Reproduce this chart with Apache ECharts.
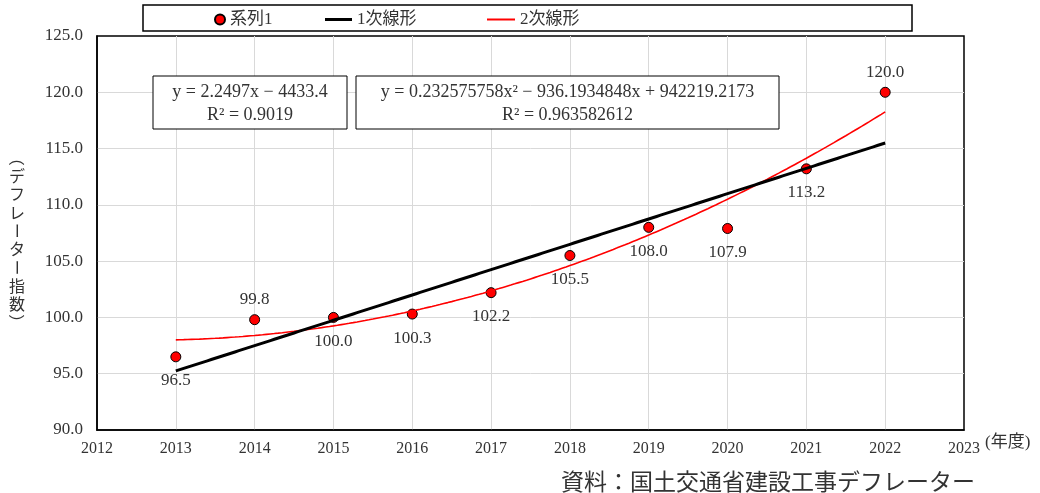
<!DOCTYPE html>
<html lang="ja">
<head>
<meta charset="utf-8">
<title>建設工事デフレーター</title>
<script src="https://cdn.jsdelivr.net/npm/echarts@6/dist/echarts.min.js"></script>
<style>
  html, body { margin: 0; padding: 0; background: #fff; }
  #chart { width: 1040px; height: 493px; }
</style>
</head>
<body>
<div id="chart"></div>
<script>
// Fiscal years and deflator index values
const years = [2013, 2014, 2015, 2016, 2017, 2018, 2019, 2020, 2021, 2022];
const deflator = [96.5, 99.8, 100.0, 100.3, 102.2, 105.5, 108.0, 107.9, 113.2, 120.0];

// Axis ranges / tick steps
const xRange = [2012, 2023];
const xStep = 1;
const yRange = [90, 125];
const yStep = 5;

// Trend line coefficients (highest power first) and R² values
const linearCoef = [2.2497, -4433.4];
const linearR2 = 0.9019;
const quadCoef = [0.232575758, -936.1934848, 942219.2173];
const quadR2 = 0.963582612;

// Series names and axis titles
const seriesNames = ['系列1', '1次線形', '2次線形'];
const yTitle = '（デフレーター指数）';
const xUnit = '(年度)';
const sourceNote = '資料：国土交通省建設工事デフレーター';

const serif = "'Liberation Serif', 'Noto Sans CJK JP', serif";
const cjk = "'Noto Sans CJK JP', sans-serif";
const textColor = '#333';

function polyval(coef, x) {
  return coef.reduce((acc, c) => acc * x + c, 0);
}

// Sample a fitted curve across the data's x span
function trendPoints(coef) {
  const pts = [];
  const x0 = years[0], x1 = years[years.length - 1];
  const n = 180;
  for (let i = 0; i <= n; i++) {
    const x = x0 + (x1 - x0) * i / n;
    pts.push([x, polyval(coef, x)]);
  }
  return pts;
}

function signed(v) {
  return (v < 0 ? ' − ' : ' + ') + String(Math.abs(v));
}

const linearText = 'y = ' + linearCoef[0] + 'x' + signed(linearCoef[1]) + '\nR² = ' + linearR2;
const quadText = 'y = ' + quadCoef[0] + 'x²' + signed(quadCoef[1]) + 'x' + signed(quadCoef[2]) + '\nR² = ' + quadR2;

// Label placement per point: a few sit above their marker
const labelAbove = [false, true, false, false, false, false, false, false, false, true];

const scatterData = years.map((y, i) => ({
  value: [y, deflator[i]],
  label: labelAbove[i]
    ? { position: 'top', distance: 6 }
    : { position: 'bottom', distance: 10 }
}));

const chart = echarts.init(document.getElementById('chart'), null, { renderer: 'canvas' });

function eqBox(x, y, w, h, text) {
  return [
    {
      type: 'rect', z: 100,
      shape: { x: x, y: y, width: w, height: h },
      style: { fill: '#fff', stroke: '#000', lineWidth: 1 }
    },
    {
      type: 'text', z: 101,
      style: {
        x: x + w / 2, y: y + h / 2 + 1,
        text: text,
        align: 'center', verticalAlign: 'middle',
        font: '18px ' + serif,
        lineHeight: 23,
        fill: textColor
      }
    }
  ];
}

// Vertical (tategaki) axis title: one glyph per row, bracket and long-vowel glyphs turned 90°
function verticalTitle(cx, cy, text, size, step) {
  const chars = text.split('');
  const top = cy - (chars.length - 1) * step / 2;
  const turned = '（）ー';
  return chars.map((ch, i) => ({
    type: 'group',
    x: cx,
    y: top + i * step,
    rotation: turned.indexOf(ch) >= 0 ? -Math.PI / 2 : 0,
    children: [{
      type: 'text',
      style: {
        x: 0, y: 0,
        text: ch,
        align: 'center', verticalAlign: 'middle',
        font: size + 'px ' + cjk,
        fill: textColor
      }
    }]
  }));
}

const option = {
  backgroundColor: '#fff',
  animation: false,
  grid: {
    left: 97, right: 76, top: 36, bottom: 63,
    show: true, borderColor: '#000', borderWidth: 1.5, backgroundColor: 'transparent'
  },
  legend: [
    {
      data: [seriesNames[0]], left: 214, top: 11, padding: 0,
      icon: 'circle', itemWidth: 10, itemHeight: 10, itemGap: 0,
      textStyle: { fontFamily: serif, fontSize: 17, color: textColor }
    },
    {
      data: [seriesNames[1]], left: 325, top: 11, padding: 0,
      icon: 'rect', itemWidth: 27, itemHeight: 3, itemGap: 0,
      textStyle: { fontFamily: serif, fontSize: 17, color: textColor }
    },
    {
      data: [seriesNames[2]], left: 487, top: 11, padding: 0,
      icon: 'rect', itemWidth: 28, itemHeight: 2, itemGap: 0,
      textStyle: { fontFamily: serif, fontSize: 17, color: textColor }
    }
  ],
  xAxis: {
    type: 'value',
    min: xRange[0], max: xRange[1], interval: xStep,
    axisLine: { show: true, lineStyle: { color: '#000', width: 1.5 } },
    axisTick: { show: false },
    axisLabel: {
      formatter: v => String(v),
      fontFamily: serif, fontSize: 16, color: textColor, margin: 11
    },
    splitLine: { show: true, showMinLine: false, showMaxLine: false, lineStyle: { color: '#d9d9d9', width: 1 } }
  },
  yAxis: {
    type: 'value',
    min: yRange[0], max: yRange[1], interval: yStep,
    axisLine: { show: true, lineStyle: { color: '#000', width: 1.5 } },
    axisTick: { show: false },
    axisLabel: {
      formatter: v => v.toFixed(1),
      fontFamily: serif, fontSize: 17, color: textColor, margin: 14
    },
    splitLine: { show: true, showMinLine: false, showMaxLine: false, lineStyle: { color: '#d9d9d9', width: 1 } }
  },
  series: [
    {
      name: seriesNames[0],
      type: 'scatter',
      symbol: 'circle',
      symbolSize: 10,
      z: 2,
      itemStyle: { color: '#ff0000', borderColor: '#000', borderWidth: 1, opacity: 1 },
      label: {
        show: true,
        formatter: p => p.value[1].toFixed(1),
        fontFamily: serif, fontSize: 17, color: textColor
      },
      data: scatterData
    },
    {
      name: seriesNames[1],
      type: 'line',
      color: '#000',
      showSymbol: false,
      symbol: 'none',
      z: 4,
      lineStyle: { color: '#000', width: 3 },
      data: trendPoints(linearCoef)
    },
    {
      name: seriesNames[2],
      type: 'line',
      color: '#ff0000',
      showSymbol: false,
      symbol: 'none',
      smooth: false,
      z: 3,
      lineStyle: { color: '#ff0000', width: 1.6 },
      data: trendPoints(quadCoef)
    }
  ],
  graphic: [
    // legend frame
    {
      type: 'rect', z: -1,
      shape: { x: 143, y: 5, width: 769, height: 26 },
      style: { fill: '#fff', stroke: '#000', lineWidth: 1.5 }
    },
    ...eqBox(153, 76, 194, 53, linearText),
    ...eqBox(356, 76, 423, 53, quadText),
    ...verticalTitle(17, 240, yTitle, 16, 18.3),
    // x axis unit
    {
      type: 'text',
      style: {
        x: 985, y: 443,
        text: xUnit,
        align: 'left', verticalAlign: 'middle',
        font: '17px ' + serif,
        fill: textColor
      }
    },
    // source note
    {
      type: 'text',
      style: {
        x: 975, y: 481,
        text: sourceNote,
        align: 'right', verticalAlign: 'middle',
        font: '23px ' + cjk,
        fill: textColor
      }
    }
  ]
};

chart.setOption(option);
</script>
</body>
</html>
